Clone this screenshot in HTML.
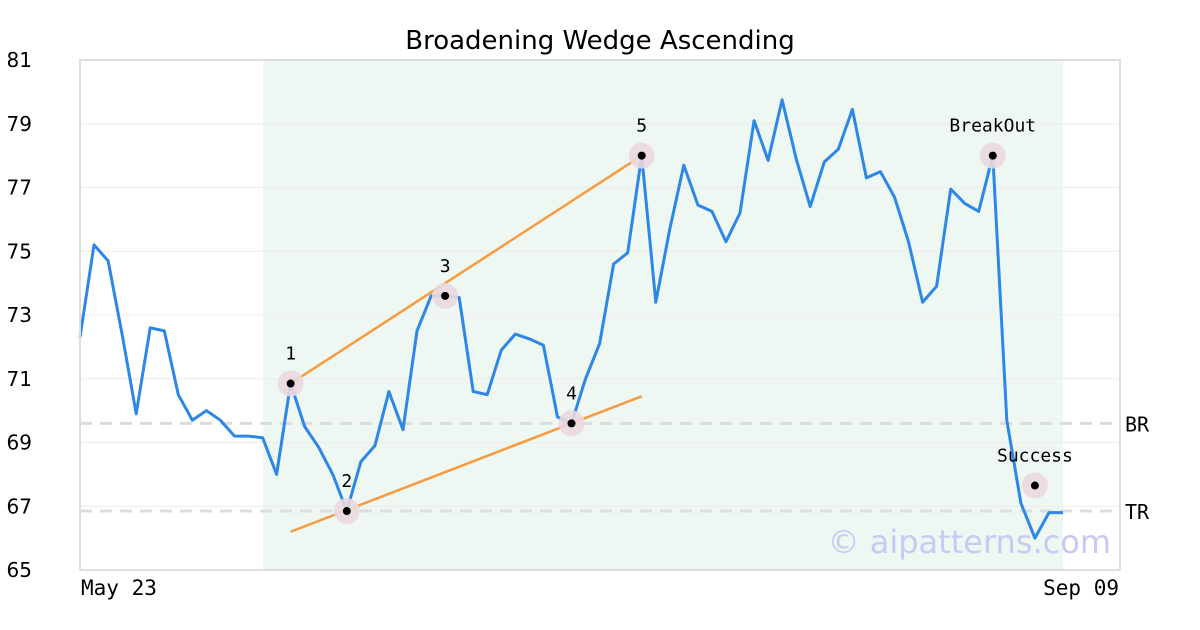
<!DOCTYPE html>
<html><head><meta charset="utf-8"><style>
html,body{margin:0;padding:0;background:#fff;}
svg{display:block;}
</style></head><body>
<svg id="chart" width="1200" height="630" xmlns="http://www.w3.org/2000/svg">
<rect width="1200" height="630" fill="#fff"/>
<text x="600" y="49" text-anchor="middle" font-family="DejaVu Sans, Liberation Sans, sans-serif" font-size="26" fill="#000">Broadening Wedge Ascending</text>
<rect x="263" y="60" width="800" height="510" fill="#eff7f3"/>
<g id="grid"></g>
<g id="yticks"></g>
<g id="levels"></g>
<g id="trend"></g>
<path id="price" fill="none" stroke="#2d87e6" stroke-width="3" stroke-linejoin="round"/>
<g id="marks"></g>
<rect x="80" y="60" width="1040" height="510" fill="none" stroke="#dddddd" stroke-width="2"/>
<text x="1111" y="553" text-anchor="end" font-family="DejaVu Sans, Liberation Sans, sans-serif" font-size="32" fill="#c9c9f5">© aipatterns.com</text>
<text x="81" y="595" font-family="DejaVu Sans Mono, Liberation Mono, monospace" font-size="21">May 23</text>
<text x="1119" y="595" text-anchor="end" font-family="DejaVu Sans Mono, Liberation Mono, monospace" font-size="21">Sep 09</text>
</svg>
<script>
const prices=[72.3,75.2,74.7,72.4,69.9,72.6,72.5,70.5,69.7,70.0,69.7,69.2,69.2,69.15,68.0,70.85,69.5,68.85,68.0,66.85,68.4,68.9,70.6,69.4,72.5,73.6,73.6,73.55,70.6,70.5,71.9,72.4,72.25,72.05,69.8,69.6,71.0,72.1,74.6,74.95,78.0,73.4,75.7,77.7,76.45,76.25,75.3,76.2,79.1,77.85,79.75,77.9,76.4,77.8,78.2,79.45,77.3,77.5,76.7,75.3,73.4,73.9,76.95,76.5,76.25,78.0,69.7,67.1,66.0,66.8,66.8];
const yTicks=[65,67,69,71,73,75,77,79,81];
const pointIdx=[15,19,26,35,40,65];
const pointVal=[70.85,66.85,73.6,69.6,78.0,78.0];
const pointLabels=["1","2","3","4","5","BreakOut"];
const successIdx=[68];
const successVal=[67.65];
const successLabel=["Success"];
const upperLine=[[15,70.85],[40,78.0]];
const lowerLine=[[15,66.2],[40,70.45]];
const levelVals=[69.6,66.85];
const levelNames=["BR","TR"];
const NS="http://www.w3.org/2000/svg";
const x=i=>80+i*(983/(prices.length-1));
const y=v=>570-(v-65)*(510/16);
function mk(t,a,p){const e=document.createElementNS(NS,t);for(const k in a)e.setAttribute(k,a[k]);p.appendChild(e);return e;}
const grid=document.getElementById('grid'),yt=document.getElementById('yticks');
yTicks.forEach(v=>{
 const l=mk('line',{x1:80,x2:1120,y1:y(v),y2:y(v),stroke:'#ececec','stroke-width':1},grid);
 
 
 const t=mk('text',{x:32,y:y(v)+7,'text-anchor':'end','font-family':'DejaVu Sans, Liberation Sans, sans-serif','font-size':20},yt);
 t.textContent=v;
 
 
});
const lv=document.getElementById('levels');
levelVals.forEach((v,i)=>{
 const l=mk('line',{x1:80,x2:1120,y1:y(v),y2:y(v),stroke:'#dcdcdc','stroke-width':3,'stroke-dasharray':'12 8'},lv);
 
 
 const t=mk('text',{x:1125,y:y(v)+8,'font-family':'DejaVu Sans Mono, Liberation Mono, monospace','font-size':20},lv);
 t.textContent=levelNames[i];
 
 
});
const tr=document.getElementById('trend');
[upperLine,lowerLine].forEach(seg=>{
 const l=mk('line',{x1:x(seg[0][0]),y1:y(seg[0][1]),x2:x(seg[1][0]),y2:y(seg[1][1]),stroke:'#f89a3f','stroke-width':2.5},tr);
 
 
});
document.getElementById('price').setAttribute('d',prices.map((v,i)=>(i?'L':'M')+x(i).toFixed(1)+','+y(v).toFixed(1)).join(''));
const mg=document.getElementById('marks');
function marker(i,v,lab){
 const c=mk('circle',{cx:x(i),cy:y(v),r:13,fill:'#ead8e0','fill-opacity':0.9},mg);
 
 
 mk('circle',{cx:x(i),cy:y(v),r:4,fill:'#000'},mg);
 const t=mk('text',{x:x(i),y:y(v)-24,'text-anchor':'middle','font-family':'DejaVu Sans Mono, Liberation Mono, monospace','font-size':18},mg);
 t.textContent=lab;
 
 
}
pointIdx.forEach((p,k)=>marker(p,pointVal[k],pointLabels[k]));
successIdx.forEach((p,k)=>marker(p,successVal[k],successLabel[k]));
</script>
</body></html>
